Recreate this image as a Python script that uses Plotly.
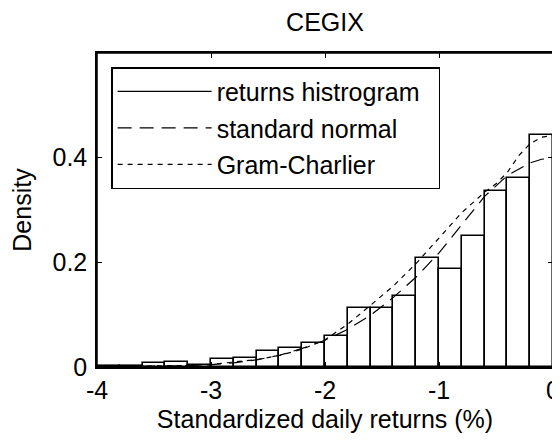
import plotly.graph_objects as go

# Histogram (bin left edges, width 0.2) and densities
bin_left = [-4.0, -3.8, -3.6, -3.4, -3.2, -3.0, -2.8, -2.6, -2.4, -2.2,
            -2.0, -1.8, -1.6, -1.4, -1.2, -1.0, -0.8, -0.6, -0.4, -0.2]
hist_density = [0.002, 0.002, 0.008, 0.0095, 0.004, 0.0146, 0.018, 0.031, 0.037, 0.045,
                0.060, 0.1135, 0.1135, 0.1364, 0.209, 0.1866, 0.250, 0.3356, 0.3618, 0.4426]
bin_width = 0.2

# Standard normal curve
norm_x = [-4.0, -3.6, -3.2, -3.0, -2.8, -2.6, -2.4, -2.2, -2.0, -1.8, -1.6, -1.4,
          -1.2, -1.0, -0.8, -0.6, -0.4, -0.2, -0.1, 0.0]
norm_y = [0.0001, 0.0006, 0.0024, 0.0044, 0.0079, 0.0136, 0.0224, 0.0355, 0.051, 0.072,
          0.099, 0.133, 0.172, 0.218, 0.271, 0.326, 0.366, 0.390, 0.397, 0.399]

# Gram-Charlier curve
gc_x = [-4.0, -3.6, -3.2, -3.0, -2.8, -2.6, -2.4, -2.2, -2.0, -1.8, -1.6, -1.4,
        -1.2, -1.0, -0.8, -0.6, -0.5, -0.4, -0.3, -0.2, -0.1, 0.0]
gc_y = [0.0002, 0.001, 0.003, 0.005, 0.009, 0.014, 0.022, 0.034, 0.052, 0.082,
        0.118, 0.155, 0.198, 0.247, 0.295, 0.334, 0.350, 0.372, 0.404, 0.427, 0.439, 0.4426]

x_ticks = [-4, -3, -2, -1, 0]
x_tick_labels = ["-4", "-3", "-2", "-1", "0"]
y_ticks = [0, 0.2, 0.4]
y_tick_labels = ["0", "0.2", "0.4"]

FONT = "Liberation Sans, Arial, Helvetica, sans-serif"
FS = 25
FS_TICK = 25

bin_centers = [b + bin_width / 2 for b in bin_left]

fig = go.Figure()
fig.add_trace(go.Bar(
    x=bin_centers, y=hist_density, width=[bin_width] * len(bin_left),
    marker=dict(color="white", line=dict(color="black", width=1.6)),
    name="returns histrogram", showlegend=False,
))
# legend proxy for histogram (solid line)
fig.add_trace(go.Scatter(
    x=[None], y=[None], mode="lines", line=dict(color="black", width=1.4),
    name="returns histrogram&nbsp;&nbsp;", legendgroup="a",
))
fig.add_trace(go.Scatter(
    x=norm_x, y=norm_y, mode="lines", line=dict(color="black", width=1.2, dash="14px,8px"),
    name="standard normal", legendgroup="b",
))
fig.add_trace(go.Scatter(
    x=gc_x, y=gc_y, mode="lines", line=dict(color="black", width=1.2, dash="5px,5px"),
    name="Gram-Charlier", legendgroup="c",
))

axis_common = dict(
    showline=True, linecolor="black", linewidth=1.5, mirror="allticks",
    ticks="inside", ticklen=5, tickwidth=1, tickcolor="black",
    showgrid=False, zeroline=False, automargin=False,
    tickfont=dict(family=FONT, size=FS_TICK, color="black"),
)
# secondary axes: only the inward ticks on top and right sides (no labels)
mirror_common = dict(
    showline=False, ticks="inside", ticklen=5, tickwidth=1, tickcolor="black",
    showticklabels=False, showgrid=False, zeroline=False, automargin=False,
)

# The page body adds an 8px margin, so the figure is sized/padded to compensate.
fig.update_layout(
    width=552, height=437,
    margin=dict(l=89, r=7, t=45, b=78, autoexpand=False),
    paper_bgcolor="white", plot_bgcolor="white",
    font=dict(family=FONT, size=FS, color="black"),
    title=dict(text="CEGIX", xref="paper", x=0.5, xanchor="center",
               yref="container", y=0.968, yanchor="middle",
               font=dict(family=FONT, size=FS, color="black")),
    xaxis=dict(range=[-4, 0], tickvals=x_ticks, ticktext=x_tick_labels,
               title=dict(text="Standardized daily returns (%)", standoff=8,
                          font=dict(family=FONT, size=FS)),
               **axis_common),
    yaxis=dict(range=[0, 0.6], tickvals=y_ticks, ticktext=y_tick_labels,
               ticklabelstandoff=3,
               title=dict(text="Density", standoff=15, font=dict(family=FONT, size=FS)),
               **axis_common),
    xaxis2=dict(overlaying="x", side="top", matches="x", tickvals=x_ticks, **mirror_common),
    yaxis2=dict(overlaying="y", side="right", matches="y", tickvals=y_ticks, **mirror_common),
    bargap=0,
    legend=dict(x=0.031, y=0.955, xanchor="left", yanchor="top",
                bgcolor="white", bordercolor="black", borderwidth=1.5,
                font=dict(family=FONT, size=FS), itemwidth=94,
                tracegroupgap=1),
    showlegend=True,
    shapes=[dict(type="rect", xref="paper", yref="paper", x0=0, x1=1, y0=0, y1=1,
                 line=dict(color="black", width=1.5), fillcolor="rgba(0,0,0,0)",
                 layer="above")],
)
# invisible trace to activate the top/right tick axes
fig.add_trace(go.Scatter(x=[None], y=[None], xaxis="x2", yaxis="y2",
                         showlegend=False, hoverinfo="skip"))

fig.write_html("out.html")
